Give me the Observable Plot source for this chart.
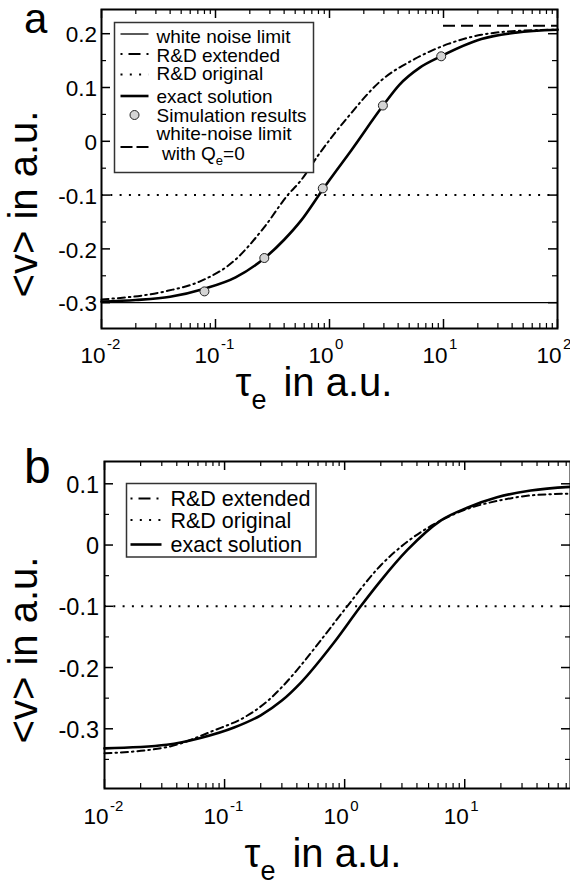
<!DOCTYPE html>
<html>
<head>
<meta charset="utf-8">
<script src="https://cdn.jsdelivr.net/npm/d3@7"></script>
<script src="https://cdn.jsdelivr.net/npm/@observablehq/plot@0.6"></script>
<style>
html,body{margin:0;padding:0;background:#fff;}
#wrap{position:relative;width:570px;height:888px;overflow:hidden;background:#fff;}
#wrap svg{position:absolute;left:0;}
</style>
</head>
<body>
<div id="wrap"></div>
<script>
// ---------- Panel a data ----------
const tauExactA = [0.01,0.02,0.04,0.08,0.15,0.27,0.4,0.56,0.87,1.0,1.55,2.94,4.1,6.2,9.5,21.5,43,100];
const vExactA   = [-0.298,-0.295,-0.289,-0.274,-0.253,-0.217,-0.183,-0.148,-0.09,-0.072,-0.017,0.066,0.105,0.137,0.158,0.19,0.202,0.2075];
const tauExtA   = [0.01,0.038,0.074,0.146,0.267,0.43,0.56,0.79,1.45,2.84,5.6,11,21.5,43,100];
const vExtA     = [-0.294,-0.278,-0.26,-0.222,-0.16,-0.1,-0.073,-0.027,0.045,0.113,0.153,0.181,0.198,0.205,0.2075];
const tauSimA   = [0.08,0.268,0.873,2.94,9.55];
const vSimA     = [-0.279,-0.217,-0.0875,0.0665,0.158];
const whiteNoiseA = [-0.3];
const rdOriginalA = [-0.1];
const qe0LimitA   = [0.215];
const qe0RangeA   = [10, 100];
const xMajorA = [0.01,0.1,1,10,100];
const xExpA   = ["-2","-1","0","1","2"];
const yMajorA = [-0.3,-0.2,-0.1,0,0.1,0.2];
const yLabelA = ["-0.3","-0.2","-0.1","0","0.1","0.2"];
const yMinorA = [-0.25,-0.15,-0.05,0.05,0.15];
const legendA = ["white noise limit","R&D extended","R&D original","exact solution","Simulation results","white-noise limit"];

// ---------- Panel b data ----------
const tauExactB = [0.01,0.033,0.063,0.12,0.2,0.3,0.43,0.81,1.36,2.0,3.33,6.3,10.5,18.6,35.5,76];
const vExactB   = [-0.332,-0.326,-0.315,-0.298,-0.278,-0.254,-0.225,-0.16,-0.1,-0.058,-0.008,0.04,0.061,0.078,0.089,0.095];
const tauExtB   = [0.01,0.033,0.081,0.15,0.227,0.3,0.43,0.63,1.05,2.0,3.3,5.55,10.5,18.6,35.5,76];
const vExtB     = [-0.34,-0.33,-0.303,-0.28,-0.255,-0.232,-0.197,-0.156,-0.1,-0.033,0.005,0.034,0.059,0.072,0.081,0.084];
const rdOriginalB = [-0.1];
const xMajorB = [0.01,0.1,1,10];
const xExpB   = ["-2","-1","0","1"];
const yMajorB = [-0.3,-0.2,-0.1,0,0.1];
const yLabelB = ["-0.3","-0.2","-0.1","0","0.1"];
const yMinorB = [-0.35,-0.25,-0.15,-0.05,0.05];
const legendB = ["R&D extended","R&D original","exact solution"];

const FONT = '"Liberation Sans", Arial, Helvetica, sans-serif';
const minorsOf = (majors, max) => majors.flatMap(d => [2,3,4,5,6,7,8,9].map(k => d*k)).filter(v => v < max);
const rows = (t, v) => t.map((x, i) => ({tau: x, v: v[i]}));
const DASHDOT = "7,4,1.5,4";
const DOTTED = "2,7.3";

function axesMarks(o) {
  const {xMajor, xMinor, yMajor, yMinor, yLabel, xExp, innerH, innerW, tickFont, yDx, lblDy, expDy} = o;
  return [
    Plot.ruleX(xMajor, {x: d => d, insetTop: innerH - 9, strokeWidth: 1.5}),
    Plot.ruleX(xMajor, {x: d => d, insetBottom: innerH - 9, strokeWidth: 1.5}),
    Plot.ruleX(xMinor, {x: d => d, insetTop: innerH - 5, strokeWidth: 1.2}),
    Plot.ruleX(xMinor, {x: d => d, insetBottom: innerH - 5, strokeWidth: 1.2}),
    Plot.ruleY(yMajor, {y: d => d, insetRight: innerW - 9, strokeWidth: 1.5}),
    Plot.ruleY(yMajor, {y: d => d, insetLeft: innerW - 9, strokeWidth: 1.5}),
    Plot.ruleY(yMinor, {y: d => d, insetRight: innerW - 5, strokeWidth: 1.2}),
    Plot.ruleY(yMinor, {y: d => d, insetLeft: innerW - 5, strokeWidth: 1.2}),
    Plot.text(yMajor, {y: d => d, text: yLabel, frameAnchor: "left", textAnchor: "end", dx: yDx, dy: 1.5, fontSize: tickFont, fill: "black"}),
    Plot.text(xMajor, {x: d => d, text: xMajor.map(() => "10"), frameAnchor: "bottom", textAnchor: "end", lineAnchor: "bottom", dx: 4, dy: lblDy, fontSize: 22.5, fill: "black"}),
    Plot.text(xMajor, {x: d => d, text: xExp, frameAnchor: "bottom", textAnchor: "start", lineAnchor: "bottom", dx: 5.5, dy: expDy, fontSize: 15, fill: "black"}),
    Plot.frame({stroke: "black", strokeWidth: 2})
  ];
}

// ---------- Panel a ----------
const HA = 420, MTA = 9, MBA = 92, MLA = 101, MRA = 13;
const plotA = Plot.plot({
  width: 570, height: HA, marginTop: MTA, marginBottom: MBA, marginLeft: MLA, marginRight: MRA,
  x: {type: "log", domain: [0.01, 100], axis: null},
  y: {domain: [-0.348, 0.245], axis: null},
  style: {fontFamily: FONT, background: "transparent", overflow: "visible"},
  marks: [
    Plot.ruleY(whiteNoiseA, {y: d => d, stroke: "black", strokeWidth: 1.3}),
    Plot.ruleY(rdOriginalA, {y: d => d, stroke: "black", strokeWidth: 2, strokeDasharray: DOTTED}),
    Plot.ruleY(qe0LimitA, {y: d => d, x1: qe0RangeA[0], x2: qe0RangeA[1], stroke: "black", strokeWidth: 2, strokeDasharray: "12,6"}),
    Plot.line(rows(tauExtA, vExtA), {x: "tau", y: "v", curve: "monotone-x", stroke: "black", strokeWidth: 2, strokeDasharray: DASHDOT}),
    Plot.line(rows(tauExactA, vExactA), {x: "tau", y: "v", curve: "monotone-x", stroke: "black", strokeWidth: 2.6}),
    Plot.dot(rows(tauSimA, vSimA), {x: "tau", y: "v", r: 4.5, fill: "#d4d4d4", stroke: "#222", strokeWidth: 1}),
    ...axesMarks({xMajor: xMajorA, xMinor: minorsOf(xMajorA, 100), yMajor: yMajorA, yMinor: yMinorA, yLabel: yLabelA, xExp: xExpA,
      innerH: HA - MTA - MBA, innerW: 570 - MLA - MRA, tickFont: 22.5, yDx: -4.5, lblDy: 34, expDy: 20})
  ]
});
plotA.style.top = "0px";
document.getElementById("wrap").appendChild(plotA);

// ---------- Panel b ----------
const HB = 448, MTB = 21, MBB = 100, MLB = 104, MRB = 0;
const plotB = Plot.plot({
  width: 570, height: HB, marginTop: MTB, marginBottom: MBB, marginLeft: MLB, marginRight: MRB,
  x: {type: "log", domain: [0.01, 76], axis: null},
  y: {domain: [-0.3975, 0.1364], axis: null},
  style: {fontFamily: FONT, background: "transparent", overflow: "visible"},
  marks: [
    Plot.ruleY(rdOriginalB, {y: d => d, stroke: "black", strokeWidth: 2, strokeDasharray: DOTTED}),
    Plot.line(rows(tauExtB, vExtB), {x: "tau", y: "v", curve: "monotone-x", stroke: "black", strokeWidth: 2, strokeDasharray: DASHDOT}),
    Plot.line(rows(tauExactB, vExactB), {x: "tau", y: "v", curve: "monotone-x", stroke: "black", strokeWidth: 2.6}),
    ...axesMarks({xMajor: xMajorB, xMinor: minorsOf(xMajorB, 76), yMajor: yMajorB, yMinor: yMinorB, yLabel: yLabelB, xExp: xExpB,
      innerH: HB - MTB - MBB, innerW: 570 - MLB - MRB, tickFont: 23.5, yDx: -5.5, lblDy: 35, expDy: 22})
  ]
});
plotB.style.top = "440px";
document.getElementById("wrap").appendChild(plotB);

// ---------- decorations (titles, panel letters, legends) ----------
function sample(g, kind, x1, x2, y) {
  if (kind === "circle") {
    g.append("circle").attr("cx", (x1 + x2) / 2).attr("cy", y).attr("r", 4.5)
      .attr("fill", "#d4d4d4").attr("stroke", "#222").attr("stroke-width", 1);
    return;
  }
  const l = g.append("line").attr("x1", x1).attr("x2", x2).attr("y1", y).attr("y2", y).attr("stroke", "black");
  if (kind === "thin") l.attr("stroke-width", 1.3);
  if (kind === "thick") l.attr("stroke-width", 2.6);
  if (kind === "dashdot") l.attr("stroke-width", 2).attr("stroke-dasharray", "2,6,12,6,2,30");
  if (kind === "dotted") l.attr("stroke-width", 2).attr("stroke-dasharray", "2,7.3");
  if (kind === "dashed") l.attr("stroke-width", 2).attr("stroke-dasharray", "12,4");
}

function decorate(svgEl, o) {
  const g = d3.select(svgEl).append("g").attr("font-family", FONT).attr("fill", "black").attr("text-anchor", "start");
  // panel letter
  g.append("text").attr("x", 24).attr("y", o.letterY).attr("font-size", o.letterSize).attr("text-anchor", "start").text(o.letter);
  // y title
  g.append("text").attr("transform", `translate(37,${o.yTitleY}) rotate(-90)`)
    .attr("text-anchor", "middle").attr("font-size", 40).text("<v> in a.u.");
  // x title
  const t = g.append("text").attr("x", o.xTitleX).attr("y", o.xTitleY).attr("text-anchor", "middle").attr("font-size", 40);
  t.append("tspan").text("τ");
  t.append("tspan").attr("font-size", 27).attr("dy", 13).text("e");
  t.append("tspan").attr("font-size", 40).attr("dy", -13).attr("dx", 17).text("in a.u.");
  // legend
  const L = o.legend;
  g.append("rect").attr("x", L.x).attr("y", L.y).attr("width", L.w).attr("height", L.h)
    .attr("fill", "white").attr("stroke", "#333").attr("stroke-width", 1.5);
  L.items.forEach(it => {
    sample(g, it.kind, L.sx1, L.sx2, it.sy);
    if (it.label != null) {
      g.append("text").attr("x", L.tx).attr("y", it.ty).attr("text-anchor", "start").attr("font-size", L.font).text(it.label);
    }
  });
  if (L.extra) L.extra(g);
}

decorate(plotA, {
  letter: "a", letterSize: 42, letterY: 33, yTitleY: 204, xTitleX: 314, xTitleY: 396,
  legend: {
    x: 114.5, y: 22.5, w: 199, h: 150, sx1: 120.5, sx2: 148.5, tx: 156.5, font: 19,
    items: [
      {kind: "thin",    sy: 34,    label: legendA[0], ty: 42.5},
      {kind: "dashdot", sy: 54,    label: legendA[1], ty: 61.5},
      {kind: "dotted",  sy: 74.5,  label: legendA[2], ty: 80},
      {kind: "thick",   sy: 96,    label: legendA[3], ty: 103},
      {kind: "circle",  sy: 115,   label: legendA[4], ty: 121.5},
      {kind: "dashed",  sy: 147,   label: legendA[5], ty: 139.5}
    ],
    extra: g => {
      const t = g.append("text").attr("x", 162).attr("y", 160).attr("text-anchor", "start").attr("font-size", 19);
      t.append("tspan").text("with Q");
      t.append("tspan").attr("font-size", 13).attr("dy", 5).text("e");
      t.append("tspan").attr("font-size", 19).attr("dy", -5).text("=0");
    }
  }
});

decorate(plotB, {
  letter: "b", letterSize: 48, letterY: 43, yTitleY: 210, xTitleX: 323, xTitleY: 426.5,
  legend: {
    x: 126.5, y: 43.5, w: 189.5, h: 73.5, sx1: 130.5, sx2: 161.5, tx: 170.5, font: 21.5,
    items: [
      {kind: "dashdot", sy: 58.5, label: legendB[0], ty: 65.5},
      {kind: "dotted",  sy: 80,   label: legendB[1], ty: 87.5},
      {kind: "thick",   sy: 104.5, label: legendB[2], ty: 111.5}
    ]
  }
});
</script>
</body>
</html>
